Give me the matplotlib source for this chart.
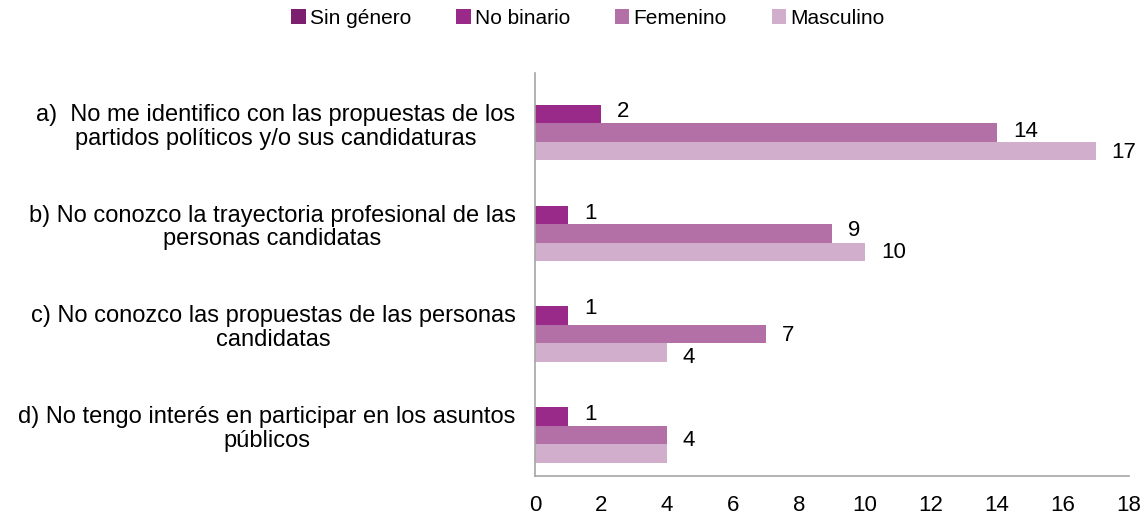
import matplotlib
matplotlib.use("Agg")
import matplotlib.pyplot as plt
import numpy as np

plt.rcParams['font.family'] = ['Liberation Sans', 'DejaVu Sans']

categories = [
    "a)  No me identifico con las propuestas de los\npartidos políticos y/o sus candidaturas",
    "b) No conozco la trayectoria profesional de las\npersonas candidatas",
    "c) No conozco las propuestas de las personas\ncandidatas",
    "d) No tengo interés en participar en los asuntos\npúblicos",
]
series_names = ["Sin género", "No binario", "Femenino", "Masculino"]
sin_genero = [0, 0, 0, 0]
no_binario = [2, 1, 1, 1]
femenino = [14, 9, 7, 4]
masculino = [17, 10, 4, 4]
x_ticks = [0, 2, 4, 6, 8, 10, 12, 14, 16, 18]

colors = ["#7b1f6e", "#9a2a89", "#b270a6", "#d1aecb"]
# label vertical nudges in pixels (positive = up); None = label hidden
label_dy = [
    [None, None, None, None],
    [3, 1, 7, 1.5],
    [1.5, 3, -1.5, -6],
    [-1.5, -1, -5, None],
]

W, H = 1146, 516
fig = plt.figure(figsize=(W/100, H/100), dpi=100)
ax = fig.add_axes([535/W, 1-476/H, (1128.7-535)/W, (476-73)/H])

data = [sin_genero, no_binario, femenino, masculino]
h = 0.184
y = np.arange(len(categories))
for i, (name, vals, col) in enumerate(zip(series_names, data, colors)):
    pos = y + (i - 1.5) * h
    ax.barh(pos, vals, height=h, color=col, label=name, edgecolor='none')
    for j, (p, v) in enumerate(zip(pos, vals)):
        dy = label_dy[i][j]
        if dy is None or v == 0:
            continue
        ax.annotate(str(v), (v, p), xytext=(16, dy), textcoords='offset pixels',
                    ha='left', va='center', fontsize=16, color='#000000')

ax.set_ylim(len(categories) - 0.5, -0.5)
ax.set_xlim(0, 18)
ax.set_xticks(x_ticks)
ax.set_xticklabels([str(t) for t in x_ticks], fontsize=16)
ax.set_yticks(y)
ax.set_yticklabels(categories, fontsize=17, multialignment='center', linespacing=1.1)
ax.tick_params(axis='both', length=0)
ax.tick_params(axis='x', pad=14)
ax.tick_params(axis='y', pad=14)
for s in ['top', 'right']:
    ax.spines[s].set_visible(False)
for s in ['left', 'bottom']:
    ax.spines[s].set_color('#a6a6a6')
    ax.spines[s].set_linewidth(1.2)

fig.legend(loc='center', bbox_to_anchor=(588/W, 1-18/H), ncol=4, frameon=False,
           fontsize=15, handlelength=0.7, handleheight=0.7, handletextpad=0.2,
           columnspacing=2.15, borderaxespad=0)

fig.savefig("out.png", dpi=100, facecolor='white')
